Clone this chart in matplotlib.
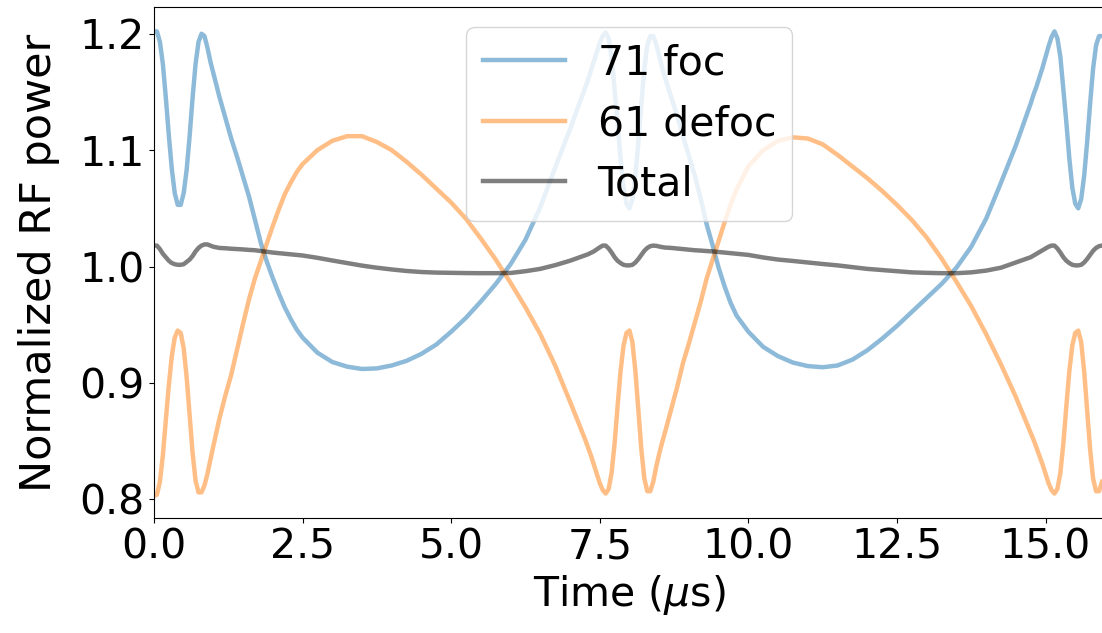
import matplotlib
matplotlib.use("Agg")
import matplotlib.pyplot as plt

# tiempo en microsegundos (muestreo mas fino en las oscilaciones)
tiempo = [0.00, 0.05, 0.10, 0.15, 0.20, 0.25, 0.30, 0.35, 0.40, 0.45, 0.50,
          0.55, 0.60, 0.65, 0.70, 0.75, 0.80, 0.85, 0.90, 0.95, 1.00,
          1.1, 1.2, 1.3, 1.4, 1.5, 1.6, 1.7, 1.8, 1.9, 2.0, 2.1, 2.2, 2.3, 2.4, 2.5,
          2.75, 3.0, 3.25, 3.5, 3.75, 4.0, 4.25, 4.5, 4.75, 5.0, 5.25, 5.5, 5.75,
          6.0, 6.25, 6.5, 6.75, 7.0, 7.25,
          7.30, 7.35, 7.40, 7.45, 7.50, 7.55, 7.60, 7.65, 7.70, 7.75, 7.80, 7.85,
          7.90, 7.95, 8.00, 8.05, 8.10, 8.15, 8.20, 8.25, 8.30, 8.35, 8.40, 8.45,
          8.50, 8.55, 8.60,
          8.7, 8.8, 8.9, 9.0, 9.1, 9.2, 9.3, 9.4, 9.5, 9.6, 9.7, 9.8,
          10.0, 10.25, 10.5, 10.75, 11.0, 11.25, 11.5, 11.75, 12.0, 12.25, 12.5,
          12.75, 13.0, 13.25, 13.5, 13.75, 14.0, 14.25, 14.5, 14.75,
          14.80, 14.85, 14.90, 14.95, 15.00, 15.05, 15.10, 15.15, 15.20, 15.25,
          15.30, 15.35, 15.40, 15.45, 15.50, 15.55, 15.60, 15.65, 15.70, 15.75,
          15.80, 15.85, 15.90, 15.95]

# potencia normalizada, 71 foc
foc = [1.202, 1.202, 1.193, 1.174, 1.145, 1.113, 1.084, 1.063, 1.053, 1.053, 1.063,
       1.083, 1.112, 1.145, 1.174, 1.193, 1.200, 1.198, 1.188, 1.176, 1.166,
       1.146, 1.128, 1.110, 1.094, 1.077, 1.060, 1.040, 1.020, 1.004, 0.990,
       0.977, 0.965, 0.955, 0.946, 0.939,
       0.926, 0.918, 0.914, 0.912, 0.9125, 0.915, 0.919, 0.925, 0.933, 0.944,
       0.956, 0.970, 0.985, 1.002, 1.023, 1.051, 1.085, 1.118, 1.153,
       1.160, 1.168, 1.176, 1.184, 1.192, 1.198, 1.201, 1.196, 1.180, 1.152,
       1.124, 1.093, 1.068, 1.054, 1.050, 1.058, 1.078, 1.107, 1.140, 1.170,
       1.190, 1.198, 1.198, 1.191, 1.181, 1.171, 1.162,
       1.146, 1.130, 1.112, 1.095, 1.078, 1.058, 1.036, 1.018, 0.999, 0.983,
       0.969, 0.958,
       0.944, 0.931, 0.923, 0.9175, 0.9145, 0.9135, 0.915, 0.920, 0.928, 0.938,
       0.949, 0.961, 0.973, 0.985, 0.999, 1.017, 1.041, 1.072, 1.104, 1.140,
       1.148, 1.155, 1.163, 1.171, 1.180, 1.189, 1.197, 1.202, 1.196, 1.180,
       1.152, 1.124, 1.093, 1.068, 1.054, 1.050, 1.058, 1.078, 1.107, 1.140,
       1.170, 1.190, 1.198, 1.198]

# potencia normalizada, 61 defoc
defoc = [0.803, 0.804, 0.815, 0.838, 0.868, 0.898, 0.923, 0.939, 0.945, 0.943, 0.930,
         0.905, 0.872, 0.840, 0.816, 0.806, 0.806, 0.812, 0.822, 0.834, 0.846,
         0.869, 0.889, 0.907, 0.929, 0.951, 0.972, 0.990, 1.005, 1.020, 1.035,
         1.049, 1.062, 1.072, 1.081, 1.088,
         1.100, 1.108, 1.112, 1.112, 1.107, 1.100, 1.090, 1.079, 1.067, 1.055,
         1.041, 1.024, 1.006, 0.986, 0.965, 0.942, 0.915, 0.884, 0.852,
         0.845, 0.838, 0.830, 0.822, 0.814, 0.808, 0.805, 0.809, 0.823, 0.848,
         0.880, 0.910, 0.932, 0.943, 0.945, 0.935, 0.910, 0.876, 0.843, 0.818,
         0.807, 0.807, 0.815, 0.828, 0.839, 0.849, 0.858,
         0.877, 0.896, 0.917, 0.934, 0.952, 0.970, 0.990, 1.006, 1.022, 1.038,
         1.053, 1.066,
         1.086, 1.100, 1.108, 1.111, 1.110, 1.105, 1.096, 1.086, 1.076, 1.065,
         1.053, 1.040, 1.025, 1.007, 0.987, 0.966, 0.942, 0.916, 0.888, 0.857,
         0.851, 0.844, 0.837, 0.830, 0.822, 0.814, 0.808, 0.805, 0.809, 0.823,
         0.848, 0.880, 0.910, 0.932, 0.943, 0.945, 0.935, 0.910, 0.876, 0.843,
         0.818, 0.807, 0.807, 0.815]

# potencia total
total = [1.018, 1.018, 1.015, 1.011, 1.008, 1.005, 1.003, 1.002, 1.0015, 1.0015, 1.002,
         1.004, 1.006, 1.009, 1.013, 1.016, 1.018, 1.019, 1.019, 1.018, 1.017,
         1.016, 1.0157, 1.0153, 1.015, 1.0147, 1.0143, 1.014, 1.0133, 1.0127, 1.012,
         1.0115, 1.011, 1.0105, 1.010, 1.0095,
         1.0075, 1.0052, 1.003, 1.0008, 0.999, 0.9975, 0.9962, 0.9953, 0.9948,
         0.9946, 0.9944, 0.9943, 0.9943, 0.9945, 0.996, 0.998, 1.0012, 1.005, 1.0095,
         1.0105, 1.0118, 1.013, 1.0148, 1.0165, 1.018, 1.018, 1.0155, 1.012, 1.008,
         1.005, 1.003, 1.0015, 1.001, 1.001, 1.0015, 1.0035, 1.0065, 1.010, 1.0135,
         1.016, 1.0175, 1.018, 1.0178, 1.0172, 1.0167, 1.0163,
         1.016, 1.0155, 1.015, 1.0145, 1.014, 1.0137, 1.0133, 1.013, 1.0125, 1.012,
         1.0115, 1.011,
         1.010, 1.0078, 1.006, 1.0048, 1.0035, 1.0022, 1.001, 0.9995, 0.998, 0.997,
         0.996, 0.995, 0.9946, 0.9943, 0.9943, 0.995, 0.9965, 0.999, 1.0035, 1.008,
         1.0095, 1.011, 1.0125, 1.014, 1.0155, 1.017, 1.018, 1.018, 1.0155, 1.012,
         1.008, 1.005, 1.003, 1.0015, 1.001, 1.001, 1.0015, 1.0035, 1.0065, 1.010,
         1.0135, 1.016, 1.0175, 1.018]

plt.rcParams['font.size'] = 29.5

fig = plt.figure(figsize=(11.02, 6.33), dpi=100)
ax = fig.add_axes([0.1397, 0.1817, 0.8630, 0.8073])

ax.plot(tiempo, foc, color='C0', alpha=0.5, lw=3.2, label='71 foc')
ax.plot(tiempo, defoc, color='C1', alpha=0.5, lw=3.2, label='61 defoc')
ax.plot(tiempo, total, color='k', alpha=0.5, lw=3.2, label='Total')

ax.set_xlim(0, 16.0)
ax.set_ylim(0.784, 1.223)
ax.set_xticks([0.0, 2.5, 5.0, 7.5, 10.0, 12.5, 15.0])
ax.set_yticks([0.8, 0.9, 1.0, 1.1, 1.2])
ax.set_xlabel(r'Time ($\mu$s)')
ax.set_ylabel('Normalized RF power', fontsize=31, labelpad=14)
ax.legend(loc='upper center')

fig.savefig('out.png', dpi=100)
